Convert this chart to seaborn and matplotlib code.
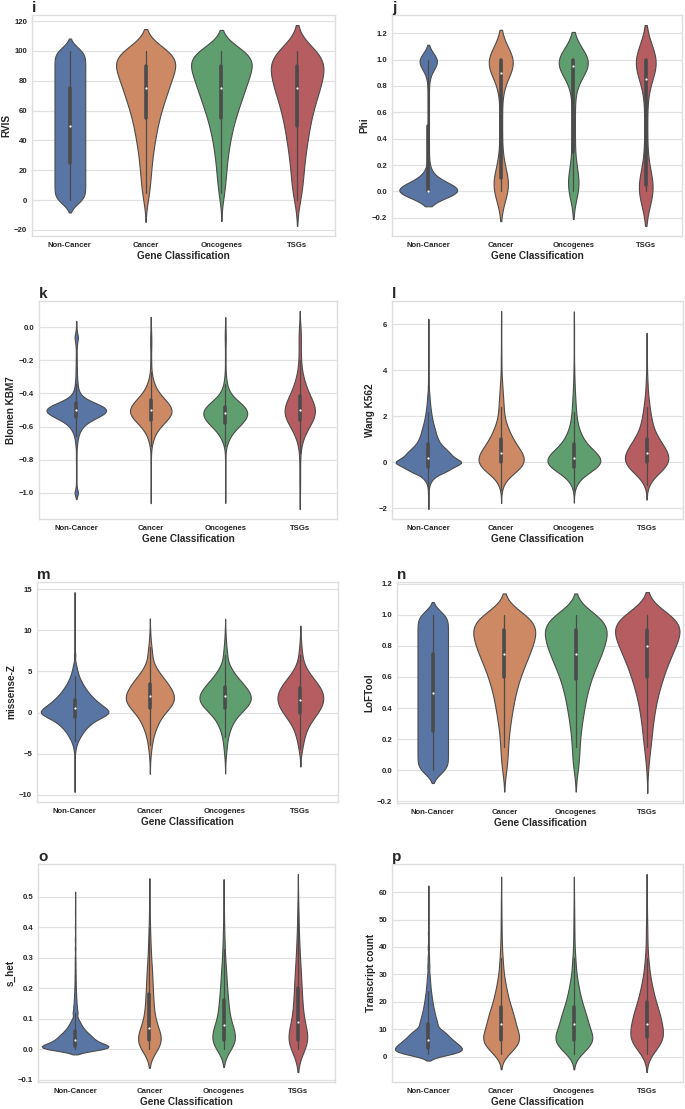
import numpy as np
import pandas as pd
import matplotlib
matplotlib.use("Agg")
import matplotlib.pyplot as plt
import seaborn as sns

groups = ["Non-Cancer", "Cancer", "Oncogenes", "TSGs"]

# Every violin is given as a binned sample: bin values + gene counts per group
# (Non-Cancer, Cancer, Oncogenes, TSGs).

# i - RVIS
rvis_bins = [0, 5, 10, 15, 20, 25, 30, 35, 40, 45, 50, 55, 60, 65, 70, 75, 80, 85, 90, 95, 100]
rvis_counts = [
    [950, 950, 950, 950, 950, 950, 950, 950, 950, 950, 950, 950, 950, 950, 950, 950, 950, 950, 950, 950, 950],
    [5, 6, 7, 8, 9, 10, 11, 13, 15, 17, 19, 22, 25, 29, 33, 37, 41, 45, 50, 54, 58],
    [3, 5, 6, 7, 8, 9, 10, 12, 14, 16, 19, 22, 26, 30, 34, 38, 42, 46, 50, 54, 56],
    [4, 4, 5, 5, 6, 6, 7, 8, 9, 10, 11, 12, 14, 15, 18, 20, 22, 23, 24, 26, 28],
]

# j - Phi
phi_bins = [0.0, 0.05, 0.1, 0.15, 0.2, 0.25, 0.3, 0.35, 0.4, 0.45, 0.5, 0.55, 0.6, 0.65, 0.7,
            0.75, 0.8, 0.85, 0.9, 0.95, 1.0]
phi_counts = [
    [9400, 2200, 1000, 350, 150, 100, 100, 100, 100, 100, 100, 100, 100, 100, 100, 100, 100, 100, 350, 900, 2600],
    [90, 80, 50, 25, 14, 8, 8, 8, 8, 8, 8, 8, 8, 8, 8, 8, 8, 14, 35, 90, 270],
    [50, 50, 35, 20, 12, 9, 9, 9, 9, 9, 9, 9, 9, 9, 9, 9, 9, 18, 40, 95, 280],
    [95, 30, 15, 8, 5, 5, 5, 5, 5, 5, 5, 5, 5, 5, 5, 5, 5, 8, 16, 40, 150],
]

# k - Blomen KBM7
kbm7_bins = [-1.0, -0.95, -0.9, -0.85, -0.8, -0.76, -0.72, -0.7, -0.68, -0.66, -0.64, -0.62, -0.6,
             -0.58, -0.56, -0.54, -0.52, -0.5, -0.48, -0.46, -0.44, -0.42, -0.4, -0.38, -0.36,
             -0.34, -0.32, -0.3, -0.27, -0.24, -0.2, -0.16, -0.12, -0.09, -0.06, -0.03, 0.0]
kbm7_counts = [
    [250, 40, 35, 35, 40, 40, 50, 60, 80, 120, 180, 270, 400, 620, 950, 1400, 1800, 1950, 1750,
     1200, 700, 380, 210, 140, 100, 80, 65, 55, 70, 60, 60, 50, 50, 80, 200, 60, 20],
    [1, 0, 1, 0, 1, 1, 2, 3, 5, 7, 10, 14, 20, 27, 35, 42, 46, 47, 44, 38, 31, 24, 18, 13, 9, 7,
     5, 4, 2, 2, 2, 1, 2, 2, 2, 1, 1],
    [1, 0, 1, 0, 1, 1, 2, 4, 6, 9, 13, 18, 25, 32, 38, 42, 44, 43, 38, 30, 21, 14, 9, 6, 4, 3, 2,
     2, 1, 1, 1, 1, 1, 1, 2, 1, 1],
    [1, 1, 1, 1, 1, 1, 2, 2, 3, 4, 6, 8, 10, 13, 16, 18, 19, 19, 18, 16, 14, 12, 10, 8, 7, 6, 5,
     4, 4, 3, 3, 2, 2, 2, 2, 2, 2],
]

# l - Wang K562
k562_bins = [-1.8, -1.4, -1.2, -1.0, -0.8, -0.6, -0.4, -0.2, 0.0, 0.2, 0.4, 0.6, 0.8, 1.0, 1.2,
             1.4, 1.6, 1.8, 2.0, 2.2, 2.4, 2.6, 2.8, 3.0, 3.3, 3.6, 4.0, 4.5, 5.0, 5.5, 6.0]
k562_counts = [
    [5, 10, 30, 80, 250, 600, 1500, 2100, 3000, 2100, 1800, 1400, 1000, 800, 650, 560, 450, 350,
     280, 220, 170, 130, 100, 80, 60, 40, 30, 20, 10, 6, 3],
    [0, 0, 1, 4, 9, 18, 40, 55, 62, 60, 55, 45, 36, 30, 24, 19, 14, 10, 8, 7, 6, 6, 5, 5, 5, 3, 2,
     2, 1, 1, 1],
    [0, 0, 1, 4, 9, 18, 38, 58, 70, 64, 52, 38, 28, 21, 16, 12, 9, 7, 6, 5, 4, 4, 3, 3, 3, 2, 2,
     1, 1, 1, 1],
    [0, 0, 0, 2, 5, 10, 20, 28, 32, 32, 30, 26, 21, 17, 13, 10, 8, 7, 6, 5, 4, 3, 3, 2, 2, 2, 1,
     1, 1, 0, 0],
]

# m - missense-Z
misz_bins = [-9, -8, -7, -6, -5, -4.5, -4, -3.5, -3, -2.5, -2, -1.5, -1, -0.5, 0, 0.5, 1, 1.5, 2,
             2.5, 3, 3.5, 4, 4.5, 5, 5.5, 6, 7, 8, 9, 10, 11, 12, 14]
misz_counts = [
    [1, 1, 2, 4, 12, 25, 50, 90, 150, 220, 300, 420, 560, 800, 1000, 880, 720, 580, 470, 370, 290,
     220, 160, 115, 80, 55, 35, 30, 14, 8, 5, 3, 2, 1],
    [0, 0, 0, 1, 2, 2, 3, 4, 5, 7, 9, 12, 15, 18, 23, 31, 37, 40, 40, 37, 33, 29, 24, 18, 13, 9, 7,
     8, 5, 2, 1, 0, 0, 0],
    [0, 0, 0, 1, 2, 2, 3, 3, 4, 6, 8, 10, 13, 18, 24, 31, 38, 42, 42, 38, 33, 28, 22, 16, 12, 8, 6,
     7, 4, 2, 1, 0, 0, 0],
    [0, 0, 0, 0, 1, 2, 2, 3, 4, 5, 6, 8, 11, 14, 17, 20, 22, 23, 23, 22, 20, 17, 14, 10, 7, 5, 4,
     4, 2, 1, 0, 0, 0, 0],
]

# n - LoFTool
loftool_bins = [0.0, 0.05, 0.1, 0.15, 0.2, 0.25, 0.3, 0.35, 0.4, 0.45, 0.5, 0.55, 0.6, 0.65, 0.7,
                0.75, 0.8, 0.85, 0.9, 0.95, 1.0]
loftool_counts = [
    [950, 950, 950, 950, 950, 950, 950, 950, 950, 950, 950, 950, 950, 950, 950, 950, 950, 950, 950, 950, 950],
    [5, 5, 6, 6, 7, 8, 10, 12, 14, 16, 19, 22, 26, 31, 36, 42, 47, 51, 54, 55, 50],
    [5, 5, 6, 6, 7, 8, 10, 12, 14, 16, 19, 22, 26, 31, 37, 43, 47, 51, 54, 54, 47],
    [1, 1, 2, 3, 4, 4, 5, 6, 7, 8, 10, 12, 14, 16, 19, 22, 25, 28, 31, 32, 30],
]

# o - s_het
shet_bins = [0.0, 0.01, 0.02, 0.03, 0.04, 0.05, 0.06, 0.07, 0.08, 0.09, 0.1, 0.12, 0.14, 0.16,
             0.18, 0.2, 0.22, 0.24, 0.26, 0.28, 0.3, 0.33, 0.36, 0.4, 0.45, 0.5]
shet_counts = [
    [3300, 3300, 2100, 1700, 1500, 1200, 900, 700, 520, 400, 300, 420, 300, 220, 170, 130, 100, 85,
     70, 60, 50, 55, 45, 40, 30, 10],
    [40, 40, 40, 38, 35, 31, 27, 23, 20, 18, 16, 28, 24, 21, 19, 18, 17, 16, 14, 12, 10, 12, 9, 8, 5, 2],
    [32, 34, 36, 37, 36, 33, 30, 27, 24, 21, 19, 33, 28, 24, 21, 19, 17, 15, 13, 11, 9, 10, 8, 7, 5, 2],
    [18, 18, 18, 17, 16, 14, 12, 11, 10, 9, 8, 15, 13, 12, 11, 10, 9, 9, 8, 7, 6, 7, 6, 5, 4, 2],
]

# p - Transcript count
tx_bins = [1, 2, 3, 4, 5, 6, 7, 8, 9, 10, 12, 14, 16, 18, 20, 22, 24, 26, 28, 30, 33, 36, 40, 45, 50, 55, 60]
tx_counts = [
    [1500, 1600, 1500, 1350, 1200, 1050, 920, 800, 720, 650, 800, 650, 530, 430, 350, 280, 220, 170,
     140, 110, 120, 90, 80, 60, 40, 25, 10],
    [12, 18, 24, 28, 30, 31, 31, 30, 29, 27, 48, 42, 36, 30, 25, 21, 17, 14, 11, 9, 10, 7, 6, 4, 3, 2, 1],
    [11, 17, 23, 27, 30, 31, 31, 30, 28, 26, 46, 40, 34, 28, 23, 19, 16, 13, 10, 8, 9, 7, 5, 4, 3, 2, 1],
    [4, 6, 9, 11, 13, 14, 15, 15, 15, 14, 26, 23, 20, 17, 14, 12, 10, 8, 7, 5, 6, 4, 3, 3, 2, 1, 1],
]


def expand(bins, counts):
    values, labels = [], []
    for g, c in zip(groups, counts):
        values.append(np.repeat(bins, c))
        labels += [g] * int(np.sum(c))
    return pd.DataFrame({"Gene Classification": labels, "value": np.concatenate(values)})


# letter, y label, bins, counts, violin width, y ticks, axes box in pixels (left, top, right, bottom)
panels = [
    ("i", "RVIS", rvis_bins, rvis_counts, 0.8, [-20, 0, 20, 40, 60, 80, 100, 120], (32, 15, 335, 236)),
    ("j", "Phi", phi_bins, phi_counts, 0.8, [-0.2, 0.0, 0.2, 0.4, 0.6, 0.8, 1.0, 1.2], (392, 15, 682, 236)),
    ("k", "Blomen KBM7", kbm7_bins, kbm7_counts, 0.8, [-1.0, -0.8, -0.6, -0.4, -0.2, 0.0], (39, 301, 337, 519)),
    ("l", "Wang K562", k562_bins, k562_counts, 0.9, [-2, 0, 2, 4, 6], (392, 301, 683, 519)),
    ("m", "missense-Z", misz_bins, misz_counts, 0.9, [-10, -5, 0, 5, 10, 15], (37, 582, 338, 802)),
    ("n", "LoFTool", loftool_bins, loftool_counts, 0.9, [-0.2, 0.0, 0.2, 0.4, 0.6, 0.8, 1.0, 1.2], (397, 582, 683, 803)),
    ("o", "s_het", shet_bins, shet_counts, 0.9, [-0.1, 0.0, 0.1, 0.2, 0.3, 0.4, 0.5], (38, 864, 335, 1082)),
    ("p", "Transcript count", tx_bins, tx_counts, 0.92, [0, 10, 20, 30, 40, 50, 60], (392, 864, 683, 1082)),
]

sns.set_theme(style="whitegrid", rc={"grid.color": "#e2e2e2", "axes.edgecolor": "#dddddd",
                                     "axes.linewidth": 1.0, "grid.linewidth": 0.9})
plt.rcParams["font.family"] = ["Liberation Sans", "DejaVu Sans"]

W, H = 685, 1109
fig = plt.figure(figsize=(W / 100, H / 100), dpi=100)

for letter, ylab, bins, counts, width, yticks, (x0, y0, x1, y1) in panels:
    ax = fig.add_axes([x0 / W, 1 - y1 / H, (x1 - x0) / W, (y1 - y0) / H])
    df = expand(bins, counts)
    sns.violinplot(data=df, x="Gene Classification", y="value", hue="Gene Classification",
                   order=groups, hue_order=groups, palette="deep", saturation=0.75, legend=False,
                   inner="box", cut=2, density_norm="area", common_norm=True, width=width,
                   linewidth=0.8, linecolor="#4b4b4b",
                   inner_kws=dict(box_width=2.6, whis_width=0.9, marker="o", markersize=1.6,
                                  markeredgewidth=0),
                   ax=ax)
    ax.set_yticks(yticks)
    ax.grid(False, axis="x")
    ax.tick_params(axis="both", length=0, labelsize=5.6)
    ax.tick_params(axis="x", pad=4.5)
    ax.tick_params(axis="y", pad=3.5)
    for t in ax.get_xticklabels() + ax.get_yticklabels():
        t.set_fontweight("bold")
    ax.set_xlabel("Gene Classification", fontsize=7.2, fontweight="bold", labelpad=1.5)
    ax.set_ylabel(ylab, fontsize=7.2, fontweight="bold", labelpad=2)
    ax.set_title(letter, loc="left", fontsize=11, fontweight="bold", pad=2)

fig.savefig("out.png", dpi=100)
